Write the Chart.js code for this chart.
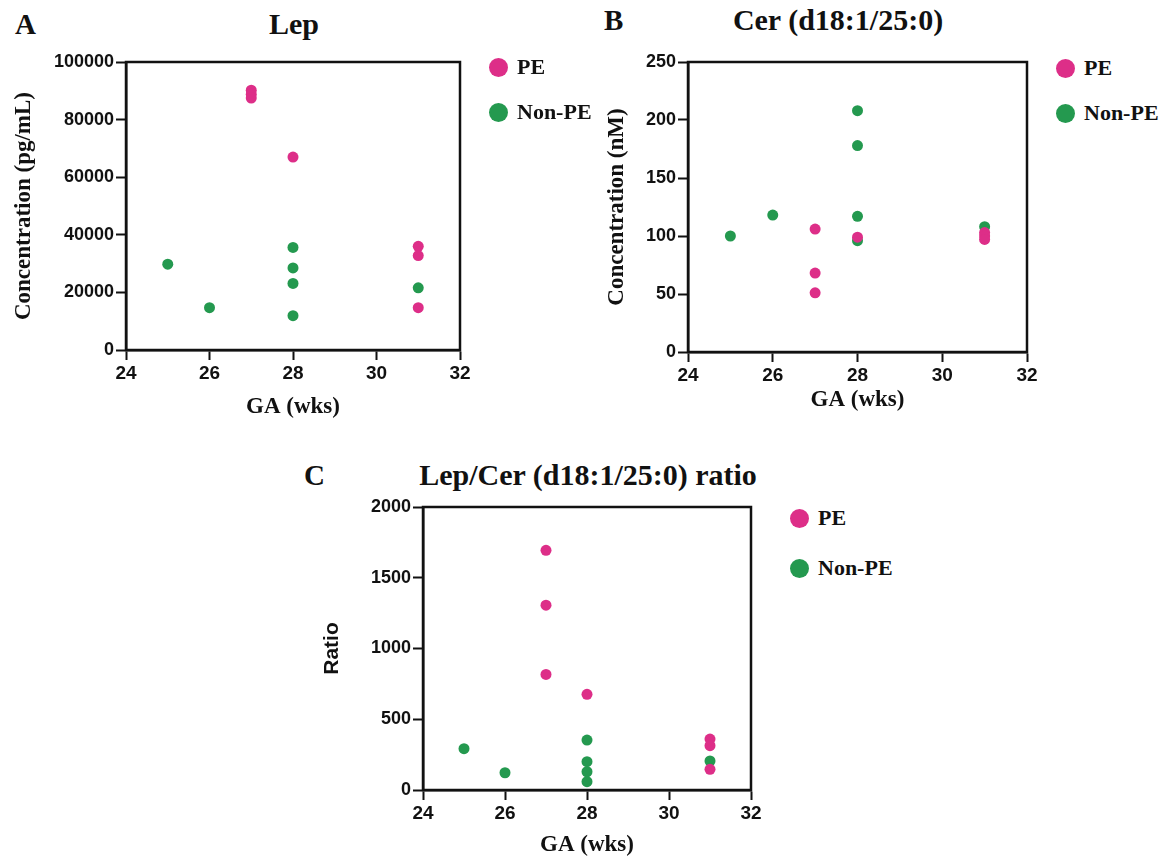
<!DOCTYPE html>
<html>
<head>
<meta charset="utf-8">
<title>Lep / Cer scatter</title>
<script src="https://cdn.jsdelivr.net/npm/chart.js@4.4.1/dist/chart.umd.min.js"></script>
<style>
  body { margin: 0; width: 1172px; height: 860px; background: #fff; position: relative; overflow: hidden; }
  canvas { position: absolute; }
  .lbl { position: absolute; font-family: "Liberation Serif", "Times New Roman", serif; font-weight: bold; line-height: 1; white-space: nowrap; color: #111; }
  .title { font-size: 30px; transform: translateX(-50%); }
  .letter { font-size: 29px; }
  .legtext { font-size: 22px; }
  .dot { position: absolute; width: 19px; height: 19px; border-radius: 50%; }
</style>
</head>
<body>
<div class="lbl letter" style="left:15px; top:10px;">A</div>
<div class="lbl letter" style="left:604px; top:6px;">B</div>
<div class="lbl letter" style="left:304px; top:461px;">C</div>

<div class="lbl title" style="left:294px; top:9px;">Lep</div>
<div class="lbl title" style="left:838px; top:5px;">Cer (d18:1/25:0)</div>
<div class="lbl title" style="left:588px; top:460px;">Lep/Cer (d18:1/25:0) ratio</div>

<canvas id="chartA" width="480" height="430" style="left:0px; top:0px;"></canvas>
<canvas id="chartB" width="467" height="430" style="left:580px; top:0px;"></canvas>
<canvas id="chartC" width="470" height="410" style="left:300px; top:450px;"></canvas>
<div id="legends"></div>

<script>
// gestational age ticks shared by all three panels
const gaTicks = [24, 26, 28, 30, 32];

// A - Lep (pg/mL)
const lepTicks = [0, 20000, 40000, 60000, 80000, 100000];
const lepPE_ga = [27, 27, 27, 28, 31, 31, 31];
const lepPE = [90200, 88800, 87500, 67000, 36000, 32800, 14700];
const lepNon_ga = [25, 26, 28, 28, 28, 28, 31];
const lepNon = [29800, 14700, 35600, 28500, 23100, 11900, 21600];

// B - Cer (d18:1/25:0) (nM)
const cerTicks = [0, 50, 100, 150, 200, 250];
const cerPE_ga = [27, 27, 27, 28, 31, 31, 31];
const cerPE = [106, 68, 51, 99, 103, 100, 97];
const cerNon_ga = [25, 26, 28, 28, 28, 28, 31];
const cerNon = [100, 118, 208, 178, 117, 96, 108];

// C - Lep/Cer ratio
const ratioTicks = [0, 500, 1000, 1500, 2000];
const ratioPE_ga = [27, 27, 27, 28, 31, 31, 31];
const ratioPE = [1694, 1306, 817, 676, 360, 313, 146];
const ratioNon_ga = [25, 26, 28, 28, 28, 28, 31];
const ratioNon = [292, 122, 353, 200, 129, 59, 205];

const groupLabels = ["PE", "Non-PE"];
const groupColors = ["#dd2e88", "#24994f"];

const ink = "#111";

// box around the plotting area
const framePlugin = {
  id: "frame",
  beforeDatasetsDraw(chart) {
    const a = chart.chartArea;
    const c = chart.ctx;
    c.save();
    c.strokeStyle = ink;
    c.lineWidth = 2.5;
    c.strokeRect(a.left, a.top, a.right - a.left, a.bottom - a.top);
    c.restore();
  },
};

function toPoints(xs, ys) {
  return xs.map((x, i) => ({ x: x, y: ys[i] }));
}

function makeChart(id, s) {
  const datasets = [
    { label: groupLabels[0], data: toPoints(s.peX, s.peY), backgroundColor: groupColors[0] },
    { label: groupLabels[1], data: toPoints(s.nonX, s.nonY), backgroundColor: groupColors[1] },
  ].map((d) => Object.assign(d, { borderWidth: 0, pointRadius: 5.5, pointHoverRadius: 5.5 }));

  return new Chart(document.getElementById(id), {
    type: "scatter",
    data: { datasets: datasets },
    plugins: [framePlugin],
    options: {
      responsive: false,
      devicePixelRatio: 1,
      animation: false,
      layout: { padding: { left: 0, top: s.padTop, right: s.padRight, bottom: 0 } },
      plugins: { legend: { display: false }, tooltip: { enabled: false } },
      scales: {
        x: {
          type: "linear",
          min: 24,
          max: 32,
          afterBuildTicks: (sc) => { sc.ticks = gaTicks.map((v) => ({ value: v })); },
          afterFit: (sc) => { sc.height = s.xHeight; },
          ticks: { color: ink, padding: 2, maxRotation: 0, font: { family: "Liberation Sans", size: 19, weight: "bold" } },
          grid: { drawOnChartArea: false, tickLength: 10, tickWidth: 2, color: ink },
          border: { color: ink, width: 2.5 },
          title: {
            display: true,
            text: "GA (wks)",
            color: ink,
            font: { family: "Liberation Serif", size: 23, weight: "bold" },
            padding: { top: 0, bottom: s.xTitlePad },
          },
        },
        y: {
          type: "linear",
          min: s.yTicks[0],
          max: s.yTicks[s.yTicks.length - 1],
          afterBuildTicks: (sc) => { sc.ticks = s.yTicks.map((v) => ({ value: v })); },
          afterFit: (sc) => { sc.width = s.yWidth; },
          ticks: { color: ink, padding: 2, font: { family: "Liberation Sans", size: 18, weight: "bold" }, callback: (v) => String(v) },
          grid: { drawOnChartArea: false, tickLength: 10, tickWidth: 2, color: ink },
          border: { color: ink, width: 2.5 },
          title: {
            display: true,
            text: s.yTitle,
            color: ink,
            font: s.yTitleFont,
            padding: { top: s.yTitlePad, bottom: 0 },
          },
        },
      },
    },
  });
}

const serifTitle = { family: "Liberation Serif", size: 23, weight: "bold" };

const chartA = makeChart("chartA", {
  peX: lepPE_ga, peY: lepPE, nonX: lepNon_ga, nonY: lepNon,
  yTicks: lepTicks, yTitle: "Concentration (pg/mL)", yTitleFont: serifTitle,
  padTop: 62, padRight: 20, xHeight: 80, yWidth: 126, xTitlePad: 9, yTitlePad: 10,
});

const chartB = makeChart("chartB", {
  peX: cerPE_ga, peY: cerPE, nonX: cerNon_ga, nonY: cerNon,
  yTicks: cerTicks, yTitle: "Concentration (nM)", yTitleFont: serifTitle,
  padTop: 62, padRight: 20, xHeight: 78, yWidth: 108, xTitlePad: 16, yTitlePad: 23,
});

const chartC = makeChart("chartC", {
  peX: ratioPE_ga, peY: ratioPE, nonX: ratioNon_ga, nonY: ratioNon,
  yTicks: ratioTicks, yTitle: "Ratio", yTitleFont: { family: "Liberation Sans", size: 21, weight: "bold" },
  padTop: 57, padRight: 19, xHeight: 70, yWidth: 123, xTitlePad: 1, yTitlePad: 20,
});

// legends built from each chart's datasets, placed to the right of each plot
const legendSpots = [
  { chart: chartA, x: 498, y: 67, gap: 45 },
  { chart: chartB, x: 1065, y: 68, gap: 45 },
  { chart: chartC, x: 799, y: 518, gap: 50 },
];

const holder = document.getElementById("legends");
legendSpots.forEach((spot) => {
  spot.chart.data.datasets.forEach((ds, i) => {
    const cy = spot.y + i * spot.gap;
    const dot = document.createElement("div");
    dot.className = "dot";
    dot.style.left = (spot.x - 9.5) + "px";
    dot.style.top = (cy - 9.5) + "px";
    dot.style.background = ds.backgroundColor;
    holder.appendChild(dot);

    const txt = document.createElement("div");
    txt.className = "lbl legtext";
    txt.style.left = (spot.x + 19) + "px";
    txt.style.top = (cy - 11) + "px";
    txt.textContent = ds.label;
    holder.appendChild(txt);
  });
});
</script>
</body>
</html>
